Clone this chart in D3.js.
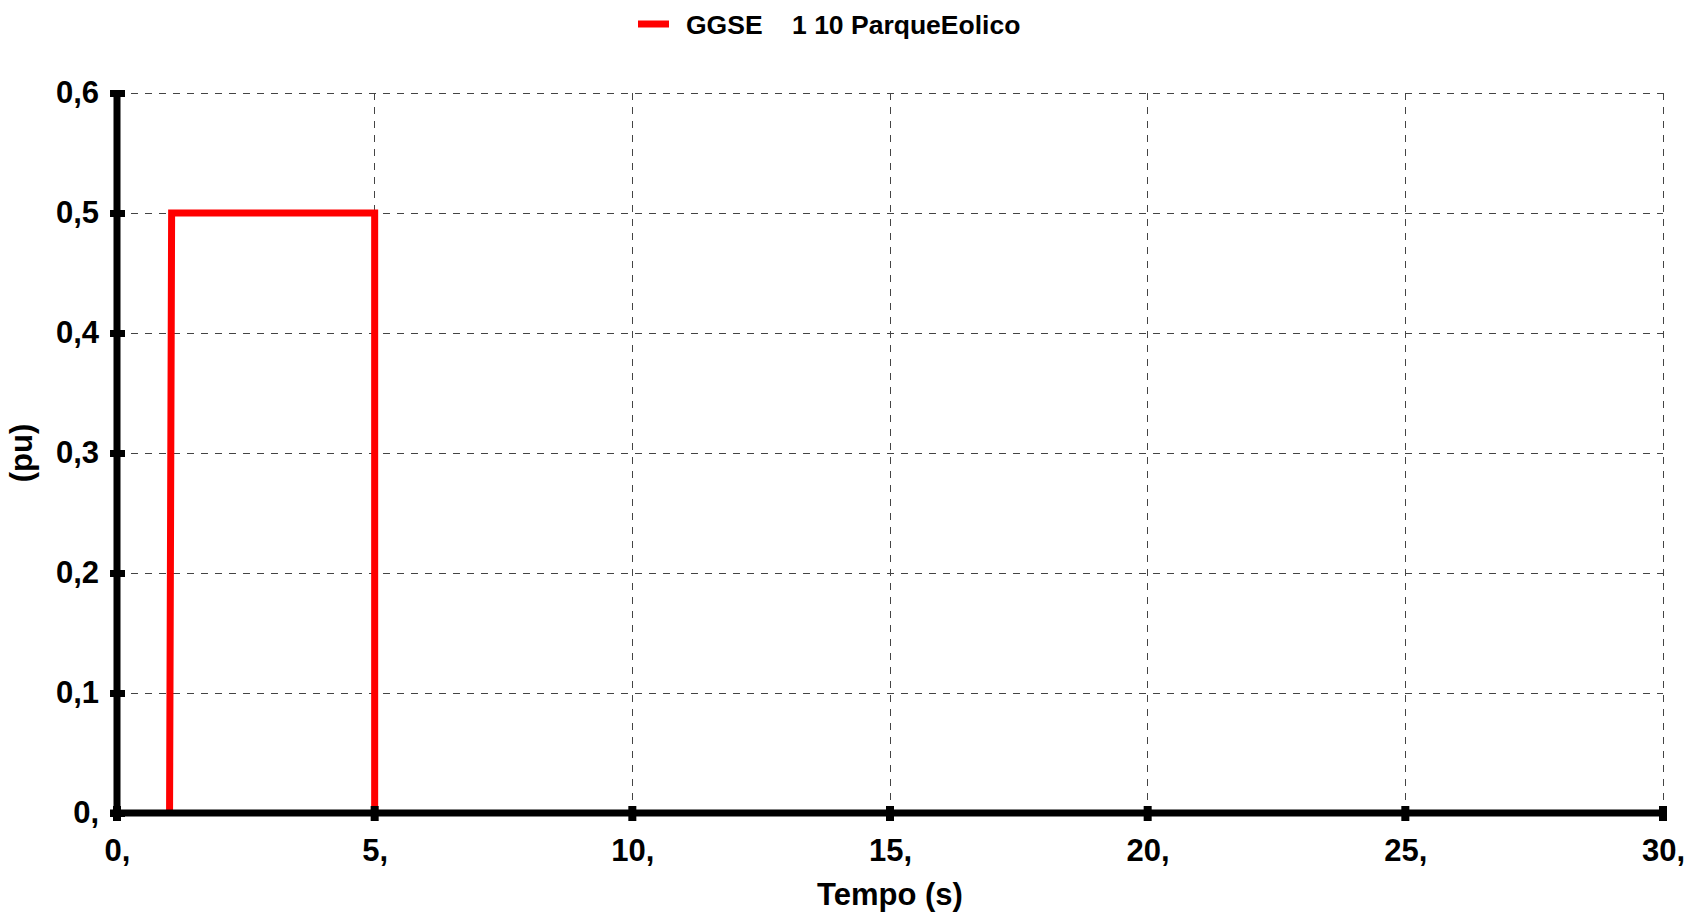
<!DOCTYPE html>
<html>
<head>
<meta charset="utf-8">
<script src="https://cdn.jsdelivr.net/npm/d3@7"></script>
<style>
  body { margin: 0; background: #fff; }
  svg text { font-family: "Liberation Sans", Arial, sans-serif; font-weight: bold; fill: #000; }
</style>
</head>
<body>
<svg id="chart" width="1685" height="913"></svg>
<script>
// dados da curva (tempo em s, valor em pu)
const tempo = [1.02, 1.06, 5.0, 5.0];
const valor = [0, 0.5, 0.5, 0];
const serieNome = "GGSE    1 10 ParqueEolico";

const xTicks = [0, 5, 10, 15, 20, 25, 30];
const xTickLabels = ["0,", "5,", "10,", "15,", "20,", "25,", "30,"];
const yTicks = [0, 0.1, 0.2, 0.3, 0.4, 0.5, 0.6];
const yTickLabels = ["0,", "0,1", "0,2", "0,3", "0,4", "0,5", "0,6"];

const svg = d3.select("#chart");
const mLeft = 117, mRight = 1663, mTop = 93, mBottom = 813;

const x = d3.scaleLinear().domain([0, 30]).range([mLeft, mRight]);
const y = d3.scaleLinear().domain([0, 0.6]).range([mBottom, mTop]);

// grade tracejada
const grid = svg.append("g").attr("stroke", "#444").attr("stroke-width", 1)
  .attr("stroke-dasharray", "7,7").attr("shape-rendering", "crispEdges");
grid.selectAll("line.v").data(xTicks.slice(1)).enter().append("line")
  .attr("x1", d => x(d)).attr("x2", d => x(d))
  .attr("y1", y(0.6)).attr("y2", y(0));
grid.selectAll("line.h").data(yTicks.slice(1)).enter().append("line")
  .attr("x1", x(0)).attr("x2", x(30))
  .attr("y1", d => y(d)).attr("y2", d => y(d));

// curva
const pts = tempo.map((t, i) => [t, valor[i]]);
svg.append("path")
  .datum(pts)
  .attr("fill", "none")
  .attr("stroke", "#ff0000")
  .attr("stroke-width", 7)
  .attr("stroke-linejoin", "miter")
  .attr("d", d3.line().x(d => x(d[0])).y(d => y(d[1])));

// eixos (linhas grossas)
svg.append("line")
  .attr("x1", x(0) - 7).attr("x2", x(30) + 4)
  .attr("y1", y(0)).attr("y2", y(0))
  .attr("stroke", "#000").attr("stroke-width", 7);
svg.append("line")
  .attr("x1", x(0)).attr("x2", x(0))
  .attr("y1", y(0.6) - 3).attr("y2", y(0) + 4)
  .attr("stroke", "#000").attr("stroke-width", 7);

// marcas dos ticks
svg.selectAll("rect.xt").data(xTicks).enter().append("rect")
  .attr("x", d => x(d) - 4).attr("y", y(0) - 7)
  .attr("width", 8).attr("height", 15).attr("fill", "#000");
svg.selectAll("rect.yt").data(yTicks).enter().append("rect")
  .attr("x", x(0) - 7).attr("y", d => y(d) - 3)
  .attr("width", 15).attr("height", 7).attr("fill", "#000");

// rótulos
const gx = svg.append("g")
  .attr("transform", `translate(0,${mBottom})`)
  .call(d3.axisBottom(x).tickValues(xTicks).tickSize(0).tickPadding(26)
    .tickFormat((d, i) => xTickLabels[i]));
gx.select(".domain").remove();
gx.selectAll("text").style("font-size", "31px").attr("fill", "#000");

const gy = svg.append("g")
  .attr("transform", `translate(${mLeft},0)`)
  .call(d3.axisLeft(y).tickValues(yTicks).tickSize(0).tickPadding(18)
    .tickFormat((d, i) => yTickLabels[i]));
gy.select(".domain").remove();
gy.selectAll("text").style("font-size", "31px").attr("fill", "#000");

// títulos dos eixos
svg.append("text")
  .attr("x", (mLeft + mRight) / 2).attr("y", 905)
  .attr("text-anchor", "middle")
  .style("font-size", "31px")
  .text("Tempo (s)");

svg.append("text")
  .attr("transform", `translate(32,${(mTop + mBottom) / 2}) rotate(-90)`)
  .attr("text-anchor", "middle")
  .style("font-size", "31px")
  .text("(pu)");

// legenda
svg.append("line")
  .attr("x1", 638).attr("x2", 669).attr("y1", 24).attr("y2", 24)
  .attr("stroke", "#ff0000").attr("stroke-width", 7);
svg.append("text")
  .attr("x", 686).attr("y", 34)
  .style("font-size", "26.5px")
  .style("white-space", "pre")
  .text(serieNome);
</script>
</body>
</html>
